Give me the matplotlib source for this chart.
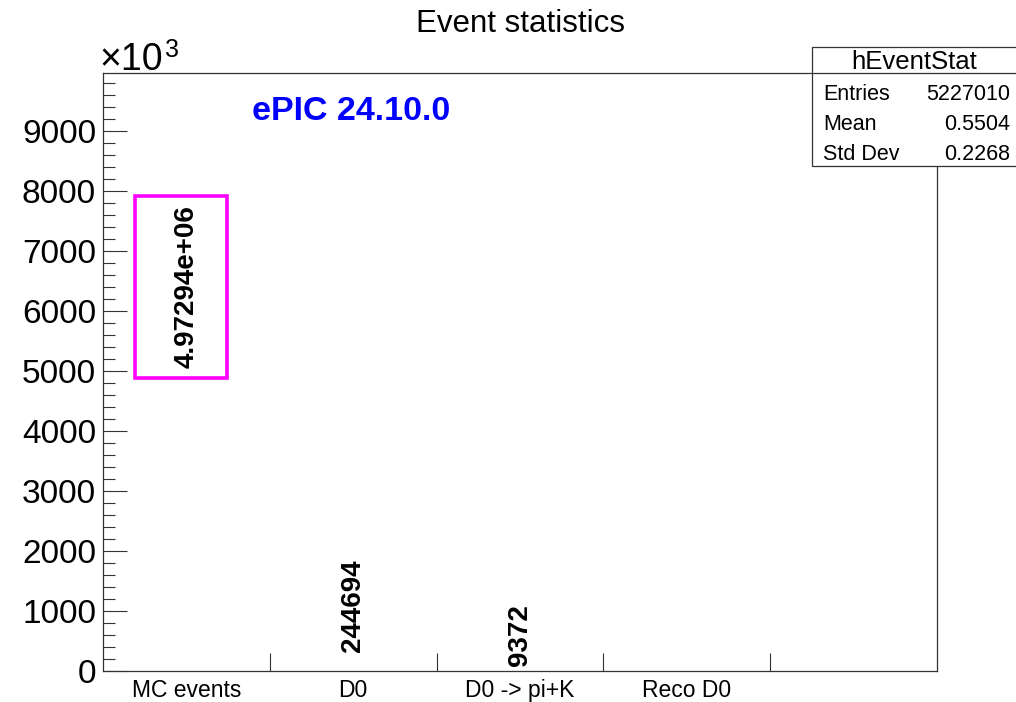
import matplotlib
matplotlib.use("Agg")
import matplotlib.pyplot as plt
from matplotlib.patches import Rectangle
import numpy as np

plt.rcParams['font.family'] = ['Liberation Sans', 'DejaVu Sans']

# ---- data ----
categories = ["MC events", "D0", "D0 -> pi+K", "Reco D0", ""]
counts = [4972940, 244694, 9372, 0, 0]
value_labels = ["4.97294e+06", "244694", "9372", "", ""]
y_ticks = [0, 1000, 2000, 3000, 4000, 5000, 6000, 7000, 8000, 9000]  # in units of 10^3
y_max_k = 9966
title = "Event statistics"
tag = "ePIC 24.10.0"
stats_name = "hEventStat"
stats_rows = [("Entries", "5227010"), ("Mean", "0.5504"), ("Std Dev", "0.2268")]
# highlight box around the first label (bin-fraction x, y in units of 10^3)
box_x = (0.19, 0.745)
box_y = (4880, 7915)

W, H = 1016, 702
fig = plt.figure(figsize=(W / 100, H / 100), dpi=100)
ax = fig.add_axes([103 / W, (H - 671) / H, 834 / W, 598 / H])

nb = len(categories)
edges = np.arange(nb + 1)
centers = edges[:-1] + 0.5
vals_k = np.array(counts) / 1000.0

ax.set_xlim(0, nb)
ax.set_ylim(0, y_max_k)

# text labels (TEXT90 style)
for c, v, lab in zip(centers, vals_k, value_labels):
    if lab:
        ax.annotate(lab, xy=(c, v), xytext=(0, 3.3), textcoords='offset points',
                    rotation=90, ha='center', va='bottom', fontsize=20,
                    fontweight='bold', color='black')

# highlight box
ax.add_patch(Rectangle((box_x[0], box_y[0]), box_x[1] - box_x[0], box_y[1] - box_y[0],
                       fill=False, edgecolor='#ff00ff', linewidth=2.6, zorder=5))

# axes styling
for s in ['top', 'right', 'left', 'bottom']:
    ax.spines[s].set_linewidth(0.9)
    ax.spines[s].set_color('#333333')

ax.set_yticks(y_ticks)
ax.set_yticklabels([str(t) for t in y_ticks], fontsize=24)
ax.set_yticks(np.arange(0, y_max_k, 200), minor=True)
ax.tick_params(axis='y', which='major', direction='in', length=17, width=0.8,
               pad=5, color='#333333', right=False)
ax.tick_params(axis='y', which='minor', direction='in', length=8.5, width=0.8,
               color='#333333', right=False)

ax.set_xticks(edges[1:-1])
ax.set_xticklabels([])
ax.tick_params(axis='x', which='major', direction='in', length=13, width=0.8,
               color='#333333', top=False)
ax.set_xticks(centers, minor=True)
ax.set_xticklabels(categories, minor=True, fontsize=16.5)
ax.tick_params(axis='x', which='minor', length=0, pad=6)

# title and tag
fig.text((103 + 417) / W, 1 - 24 / H, title, ha='center', va='center', fontsize=22.5)
ax.text(0.179, 0.936, tag, transform=ax.transAxes, ha='left', va='center',
        fontsize=24.5, fontweight='bold', color='#0000ff')

# x10^3 multiplier
fig.text(99 / W, 1 - 70 / H, "\u00d710", ha='left', va='baseline', fontsize=27)
fig.text(165 / W, 1 - 57 / H, "3", ha='left', va='baseline', fontsize=18)

# stats box
bx0, by_top, by_bot, by_sep = 812, 47, 166, 73
fig.add_artist(Rectangle((bx0 / W, 1 - by_bot / H), (W + 5 - bx0) / W, (by_bot - by_top) / H,
                         transform=fig.transFigure, facecolor='white',
                         edgecolor='#333333', linewidth=0.9, zorder=10, clip_on=False))
fig.add_artist(plt.Line2D([bx0 / W, 1.0], [1 - by_sep / H] * 2, transform=fig.transFigure,
                          color='#333333', linewidth=0.9, zorder=11))
fig.text((bx0 + 1016) / 2 / W, 1 - 62 / H, stats_name, ha='center', va='center',
         fontsize=18.5, zorder=12)
for i, (k, v) in enumerate(stats_rows):
    yy = 1 - (94 + 30 * i) / H
    fig.text(823 / W, yy, k, ha='left', va='center', fontsize=15.5, zorder=12)
    fig.text(1010 / W, yy, v, ha='right', va='center', fontsize=15.5, zorder=12)

fig.savefig("out.png", dpi=100)
